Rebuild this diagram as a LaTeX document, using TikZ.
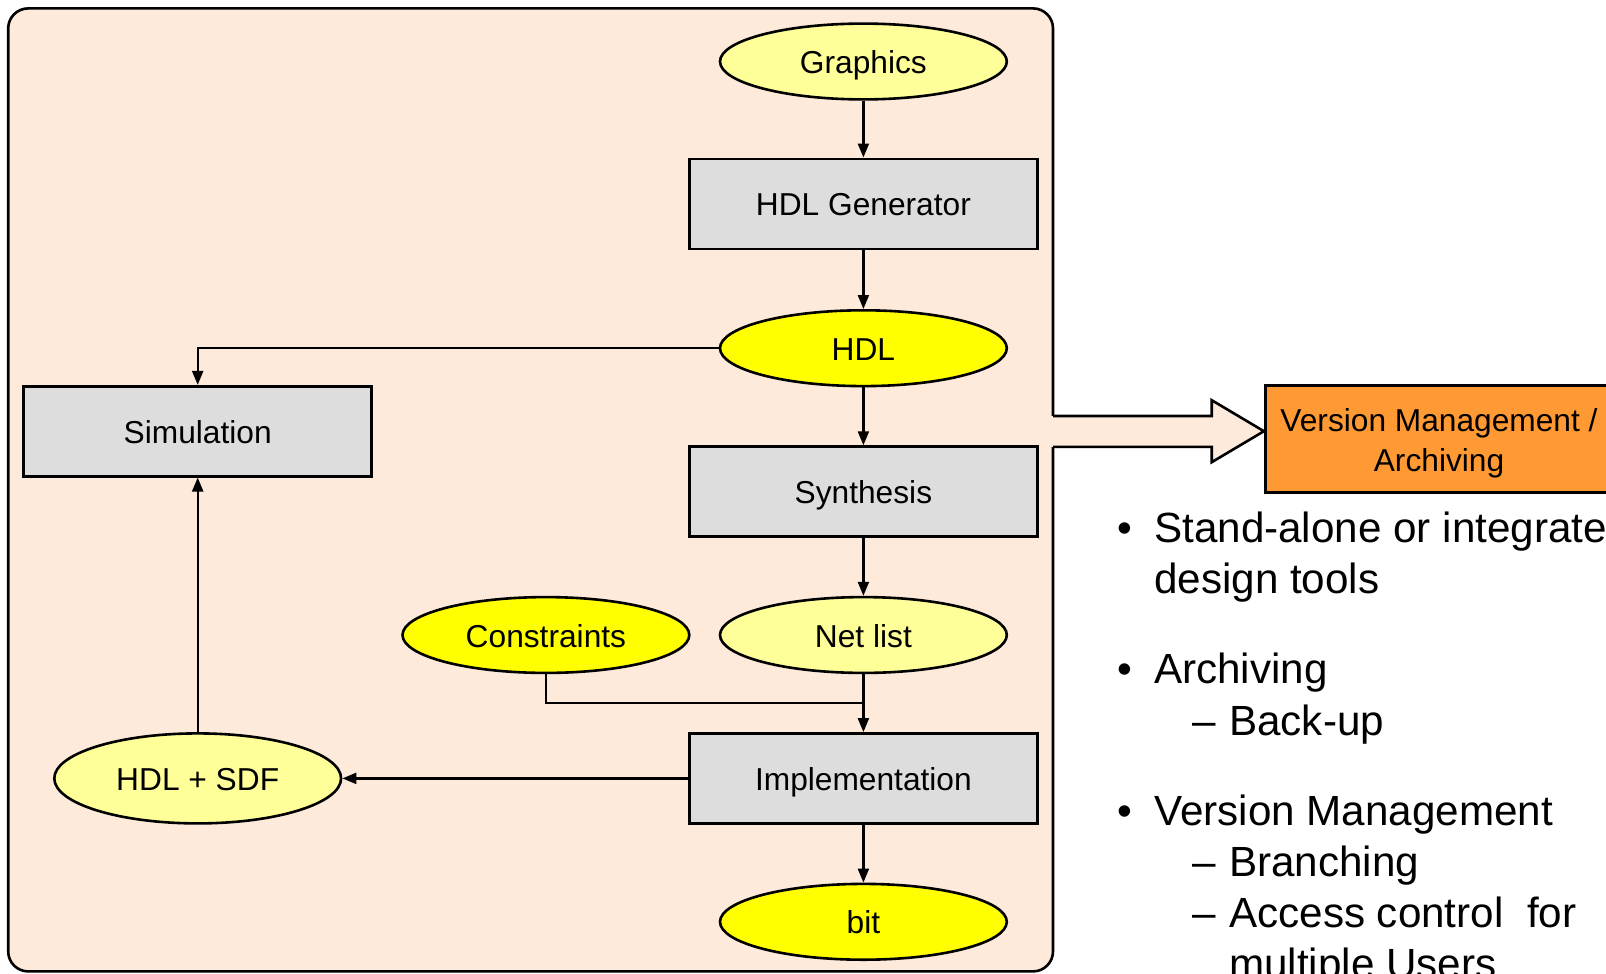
\documentclass[tikz,border=0pt]{standalone}
\usepackage{fontspec}
\setmainfont{Liberation Sans}
\usetikzlibrary{arrows.meta,shapes.geometric}
\definecolor{peach}{RGB}{253,234,218}
\definecolor{lightyel}{RGB}{255,255,153}
\definecolor{yel}{RGB}{255,255,0}
\definecolor{boxgray}{RGB}{221,221,221}
\definecolor{vmorange}{RGB}{255,153,51}
\tikzset{
  nodefont/.style={font=\fontsize{31.7}{38}\selectfont},
  bulletfont/.style={font=\fontsize{42.2}{50}\selectfont},
  procbox/.style={draw=black, line width=2.6pt, fill=boxgray, rectangle, minimum width=348pt, minimum height=90pt, inner sep=0pt, nodefont, text height=26pt, text depth=2pt},
  dataell/.style={draw=black, line width=2.6pt, ellipse, minimum width=286.8pt, minimum height=75.8pt, inner sep=0pt, nodefont, text height=26pt, text depth=2pt},
  lightell/.style={dataell, fill=lightyel},
  yelell/.style={dataell, fill=yel},
  conn/.style={line width=2.2pt, -{Triangle[length=14pt,width=11pt]}},
  plainline/.style={line width=2.2pt},
  btext/.style={bulletfont, anchor=base west, inner sep=0pt},
  bmark/.style={bulletfont, anchor=base, inner sep=0pt},
}
\begin{document}
\begin{tikzpicture}[x=1pt,y=-1pt]
\useasboundingbox (0,0) rectangle (1606,974);
% panel
\node[draw=black, line width=2.6pt, fill=peach, rounded corners=20pt, rectangle, minimum width=1044.8pt, minimum height=963pt, inner sep=0pt] (panel) at (530.6,489.9) {};
% nodes
\node[lightell] (graphics) at (863.4,61.5) {Graphics};
\node[procbox] (hdlgen) at (863.4,203.8) {HDL Generator};
\node[yelell] (hdl) at (863.4,348.2) {HDL};
\node[procbox] (sim) at (197.7,431.2) {Simulation};
\node[procbox] (synth) at (863.4,491.6) {Synthesis};
\node[yelell] (constraints) at (545.9,635) {Constraints};
\node[lightell] (netlist) at (863.4,635) {Net list};
\node[procbox] (impl) at (863.4,778.4) {Implementation};
\node[lightell, minimum height=90pt] (hdlsdf) at (197.7,778.4) {HDL + SDF};
\node[yelell] (bit) at (863.4,921.8) {bit};
\coordinate (join) at (863.4,702.6);
% connectors
\draw[conn] (graphics) -- (hdlgen);
\draw[conn] (hdlgen) -- (hdl);
\draw[conn] (hdl) -- (synth);
\draw[conn] (synth) -- (netlist);
\draw[conn] (netlist) -- (impl);
\draw[plainline] (constraints.south) |- (join);
\draw[conn] (impl) -- (bit);
\draw[conn] (impl.west) -- (hdlsdf.east);
\draw[conn] (hdlsdf) -- (sim);
\draw[conn] (hdl.west) -| (sim.north);
% version management box
\node[draw=black, line width=2.6pt, fill=vmorange, rectangle, minimum width=350pt, minimum height=107pt, inner sep=0pt, anchor=west] (vm) at (1263.9,439.2) {};
\node[nodefont, anchor=base, inner sep=0pt] (vmA) at (1439,431.8) {Version Management /};
\node[nodefont, anchor=base, inner sep=0pt] (vmB) at (1439,471.2) {Archiving};
% block arrow
\fill[peach] (1050.5,416) -- (1211.7,416) -- (1211.7,400.2) -- (vm.west |- 0,431.2) -- (1211.7,462.2) -- (1211.7,446.8) -- (1050.5,446.8) -- cycle;
\draw[line width=2.6pt, line join=miter] (1053,416) -- (1211.7,416) -- (1211.7,400.2) -- (vm.west |- 0,431.2) -- (1211.7,462.2) -- (1211.7,446.8) -- (1053,446.8);
% bullet text
\node[bmark] (b1) at (1124.5,542) {•};
\node[btext] (t1) at (1154,542) {Stand-alone or integrated in};
\node[btext] (t2) at (1154,593) {design tools};
\node[bmark] (b2) at (1124.5,683.7) {•};
\node[btext] (t3) at (1154,683.7) {Archiving};
\node[bmark] (d1) at (1204.5,735) {–};
\node[btext] (t4) at (1229,735) {Back-up};
\node[bmark] (b3) at (1124.5,825) {•};
\node[btext] (t5) at (1154,825) {Version Management};
\node[bmark] (d2) at (1204.5,876) {–};
\node[btext] (t6) at (1229,876) {Branching};
\node[bmark] (d3) at (1204.5,927.6) {–};
\node[btext] (t7) at (1229,927.6) {Access control\ \ for};
\node[btext] (t8) at (1229,978.5) {multiple Users};
\end{tikzpicture}
\end{document}
